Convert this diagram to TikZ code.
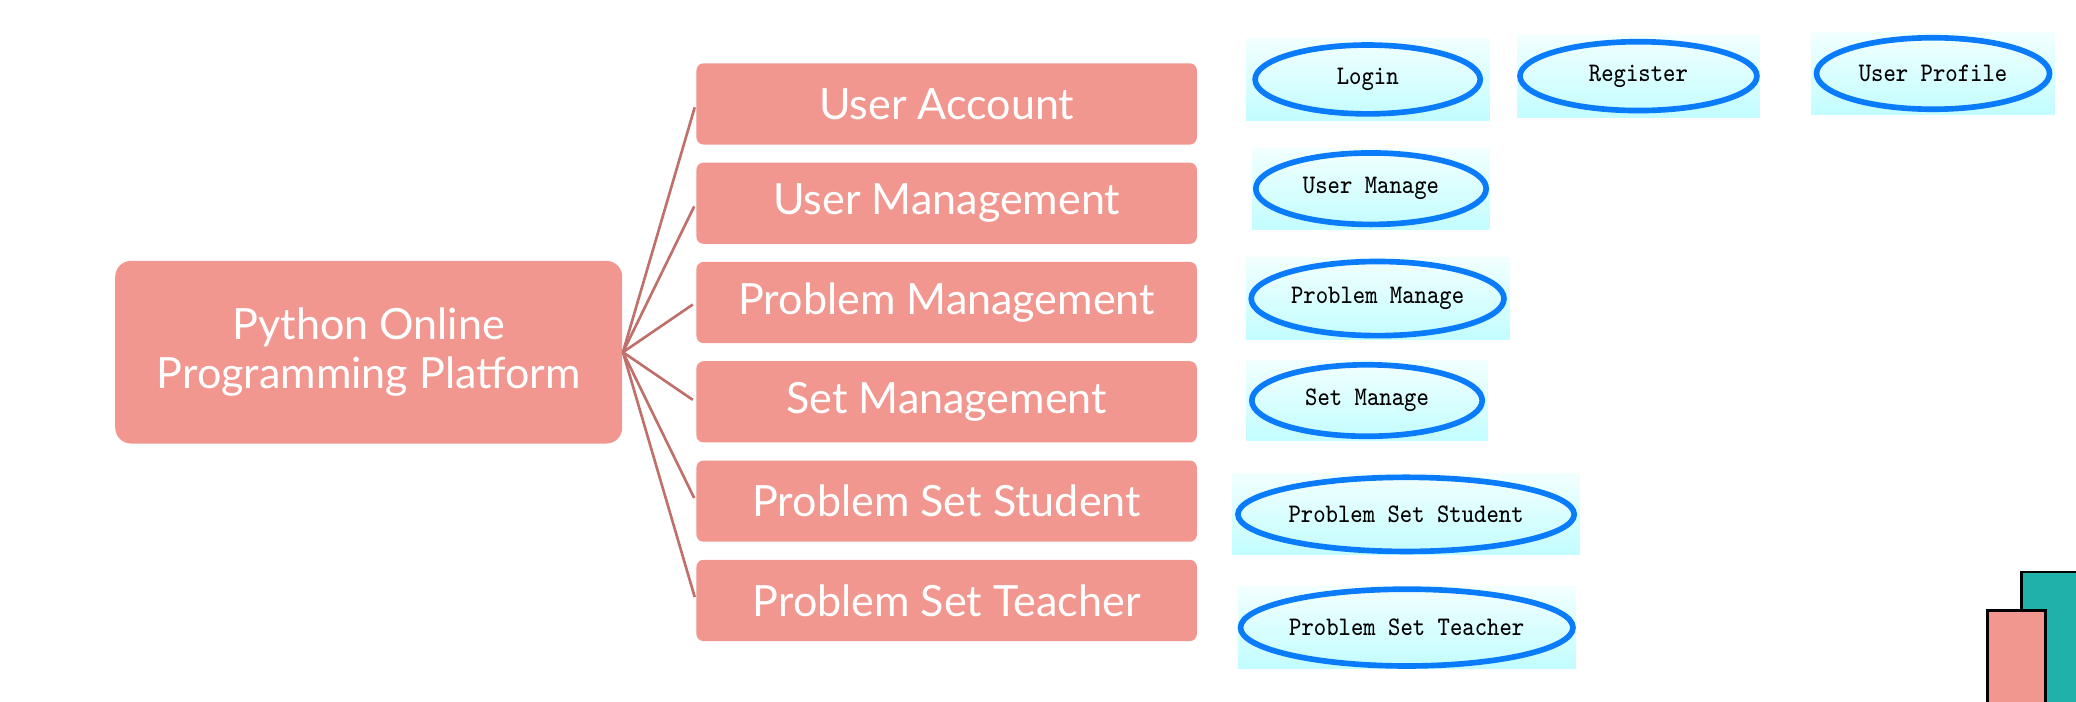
\documentclass[tikz,border=0pt]{standalone}
\usepackage{fontspec}
\usepackage{tikz}
\usetikzlibrary{shapes.geometric,arrows}
\newfontfamily\boxfont{Lato}
\definecolor{boxred}{HTML}{F1978F}
\definecolor{linkred}{HTML}{C0706A}
\definecolor{caseblue}{HTML}{0A7BFA}
\definecolor{bgtop}{HTML}{F2FFFF}
\definecolor{bgbot}{HTML}{C2FDFF}
\definecolor{barteal}{HTML}{20B2AA}
\newcommand{\stretched}[1]{\scalebox{1}[1.15]{#1}}
\tikzstyle{platform}=[rectangle,rounded corners=4.5pt,minimum width=143.6pt,
minimum height=51.75pt,align=center,fill=boxred,text=white,font=\boxfont\fontsize{12.2}{13.9}\selectfont]
\tikzstyle{module}=[rectangle,rounded corners=2pt,minimum width=141.75pt,
minimum height=23pt,text centered,fill=boxred,text=white,font=\boxfont\fontsize{12.2}{14}\selectfont]
\tikzstyle{casebg}=[rectangle,inner sep=0pt,top color=bgtop,bottom color=bgbot,draw=none]
\tikzstyle{usecase}=[ellipse,inner sep=0pt,draw=caseblue,line width=1.6pt,
font=\ttfamily\fontsize{6.6}{8}\selectfont]
\tikzstyle{link}=[draw=linkred,line width=0.75pt,shorten >=1pt]
\tikzstyle{bar}=[draw=black,line width=0.75pt]

\begin{document}
\begin{tikzpicture}[x=0.375pt,y=-0.375pt,node distance=28.125pt]
        \useasboundingbox (0,0) rectangle (1568,530);
        \node (platform) [platform] at (278.5,266) {Python Online\\Programming Platform};
        \node (account) [module] at (715,78.5) {User Account};
        \node (usermgmt) [module,below of=account] {User Management};
        \node (problemmgmt) [module,below of=usermgmt] {Problem Management};
        \node (setmgmt) [module,below of=problemmgmt] {Set Management};
        \node (student) [module,below of=setmgmt] {Problem Set Student};
        \node (teacher) [module,below of=student] {Problem Set Teacher};

        \draw [link] (platform.east) -- (account.west);
        \draw [link] (platform.east) -- (usermgmt.west);
        \draw [link] (platform.east) -- (problemmgmt.west);
        \draw [link] (platform.east) -- (setmgmt.west);
        \draw [link] (platform.east) -- (student.west);
        \draw [link] (platform.east) -- (teacher.west);

        % use cases
        \node (loginbg) [casebg,minimum width=69pt,minimum height=23.25pt] at (1033,60) {};
        \node (login) [usecase,minimum width=63.75pt,minimum height=19.5pt] at (loginbg) {\stretched{Login}};
        \node (registerbg) [casebg,minimum width=68.6pt,minimum height=23.25pt] at (1237.5,57.5) {};
        \node (register) [usecase,minimum width=67.1pt,minimum height=19.5pt] at (registerbg) {\stretched{Register}};
        \node (profilebg) [casebg,minimum width=69pt,minimum height=23.25pt] at (1460,55.5) {};
        \node (profile) [usecase,minimum width=66pt,minimum height=20.25pt] at (profilebg) {\stretched{User Profile}};
        \node (usermanagebg) [casebg,minimum width=67.1pt,minimum height=22.9pt] at (1035.5,142.5) {};
        \node (usermanage) [usecase,minimum width=65.25pt,minimum height=20.25pt] at (usermanagebg) {\stretched{User Manage}};
        \node (problemmanagebg) [casebg,minimum width=74.6pt,minimum height=23.25pt] at (1040.5,225.5) {};
        \node (problemmanage) [usecase,minimum width=71.6pt,minimum height=21pt] at (problemmanagebg) {\stretched{Problem Manage}};
        \node (setmanagebg) [casebg,minimum width=68.3pt,minimum height=22.9pt] at (1032.5,302.5) {};
        \node (setmanage) [usecase,minimum width=65.25pt,minimum height=20.25pt] at (setmanagebg) {\stretched{Set Manage}};
        \node (studentcasebg) [casebg,minimum width=98.3pt,minimum height=22.9pt] at (1062,388.5) {};
        \node (studentcase) [usecase,minimum width=95.25pt,minimum height=21pt] at (studentcasebg) {\stretched{Problem Set Student}};
        \node (teachercasebg) [casebg,minimum width=95.6pt,minimum height=23.25pt] at (1062.5,474) {};
        \node (teachercase) [usecase,minimum width=93pt,minimum height=21.75pt] at (teachercasebg) {\stretched{Problem Set Teacher}};

        % corner bars
        \filldraw [bar,fill=barteal] (1527,432) rectangle (1574,536);
        \filldraw [bar,fill=boxred] (1501,461) rectangle (1545,536);
\end{tikzpicture}
\end{document}
